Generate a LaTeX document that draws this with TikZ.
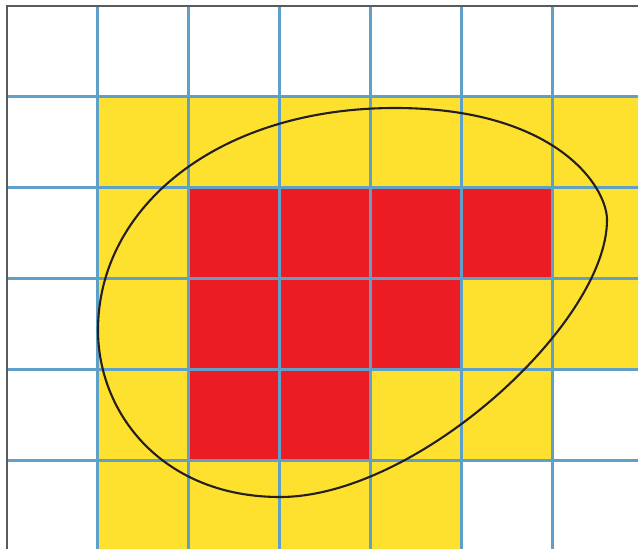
\documentclass[tikz,border=0pt]{standalone}
\definecolor{cellyellow}{HTML}{FEE02E}
\definecolor{cellred}{HTML}{EC1C24}
\definecolor{gridblue}{HTML}{5FA0C8}
\definecolor{bordergray}{HTML}{5A5A5A}
\definecolor{curveblack}{HTML}{231F20}
\tikzset{
  yellowcell/.style={fill=cellyellow},
  redcell/.style={fill=cellred},
  gridline/.style={draw=gridblue,line width=2.6pt},
  borderline/.style={draw=bordergray,line width=2pt},
  blob/.style={draw=curveblack,line width=2.1pt}
}
\begin{document}
\begin{tikzpicture}[x=1pt,y=-1pt]
\useasboundingbox (0,0) rectangle (638,549);
\clip (0,0) rectangle (638,549);
\fill[white] (0,0) rectangle (638,549);
% yellow cells (col,row)
\foreach \c/\r in {1/1,2/1,3/1,4/1,5/1,6/1,1/2,6/2,1/3,5/3,6/3,1/4,4/4,5/4,1/5,2/5,3/5,4/5}
  \path[yellowcell] ({6.5+91*\c},{5.5+91*\r}) rectangle ++(91,91);
% red cells
\foreach \c/\r in {2/2,3/2,4/2,5/2,2/3,3/3,4/3,2/4,3/4}
  \path[redcell] ({6.5+91*\c},{5.5+91*\r}) rectangle ++(91,91);
% grid
\foreach \k in {1,...,6}
  \path[gridline] ({6.5+91*\k},5.5) -- ({6.5+91*\k},560);
\foreach \k in {1,...,5}
  \path[gridline] (6.5,{5.5+91*\k}) -- (650,{5.5+91*\k});
% border
\path[borderline] (6.5,560) -- (6.5,5.5) -- (650,5.5);
% closed curve
\coordinate (pl) at (98,330);
\coordinate (pt) at (395,108);
\coordinate (pr) at (607,220);
\coordinate (pb) at (280,497);
\path[blob] (pl) .. controls (98,207) and (218,108) .. (pt)
  .. controls (555,108) and (607,186) .. (pr)
  .. controls (607,323) and (417,497) .. (pb)
  .. controls (163,497) and (98,414) .. (pl) -- cycle;
\end{tikzpicture}
\end{document}
